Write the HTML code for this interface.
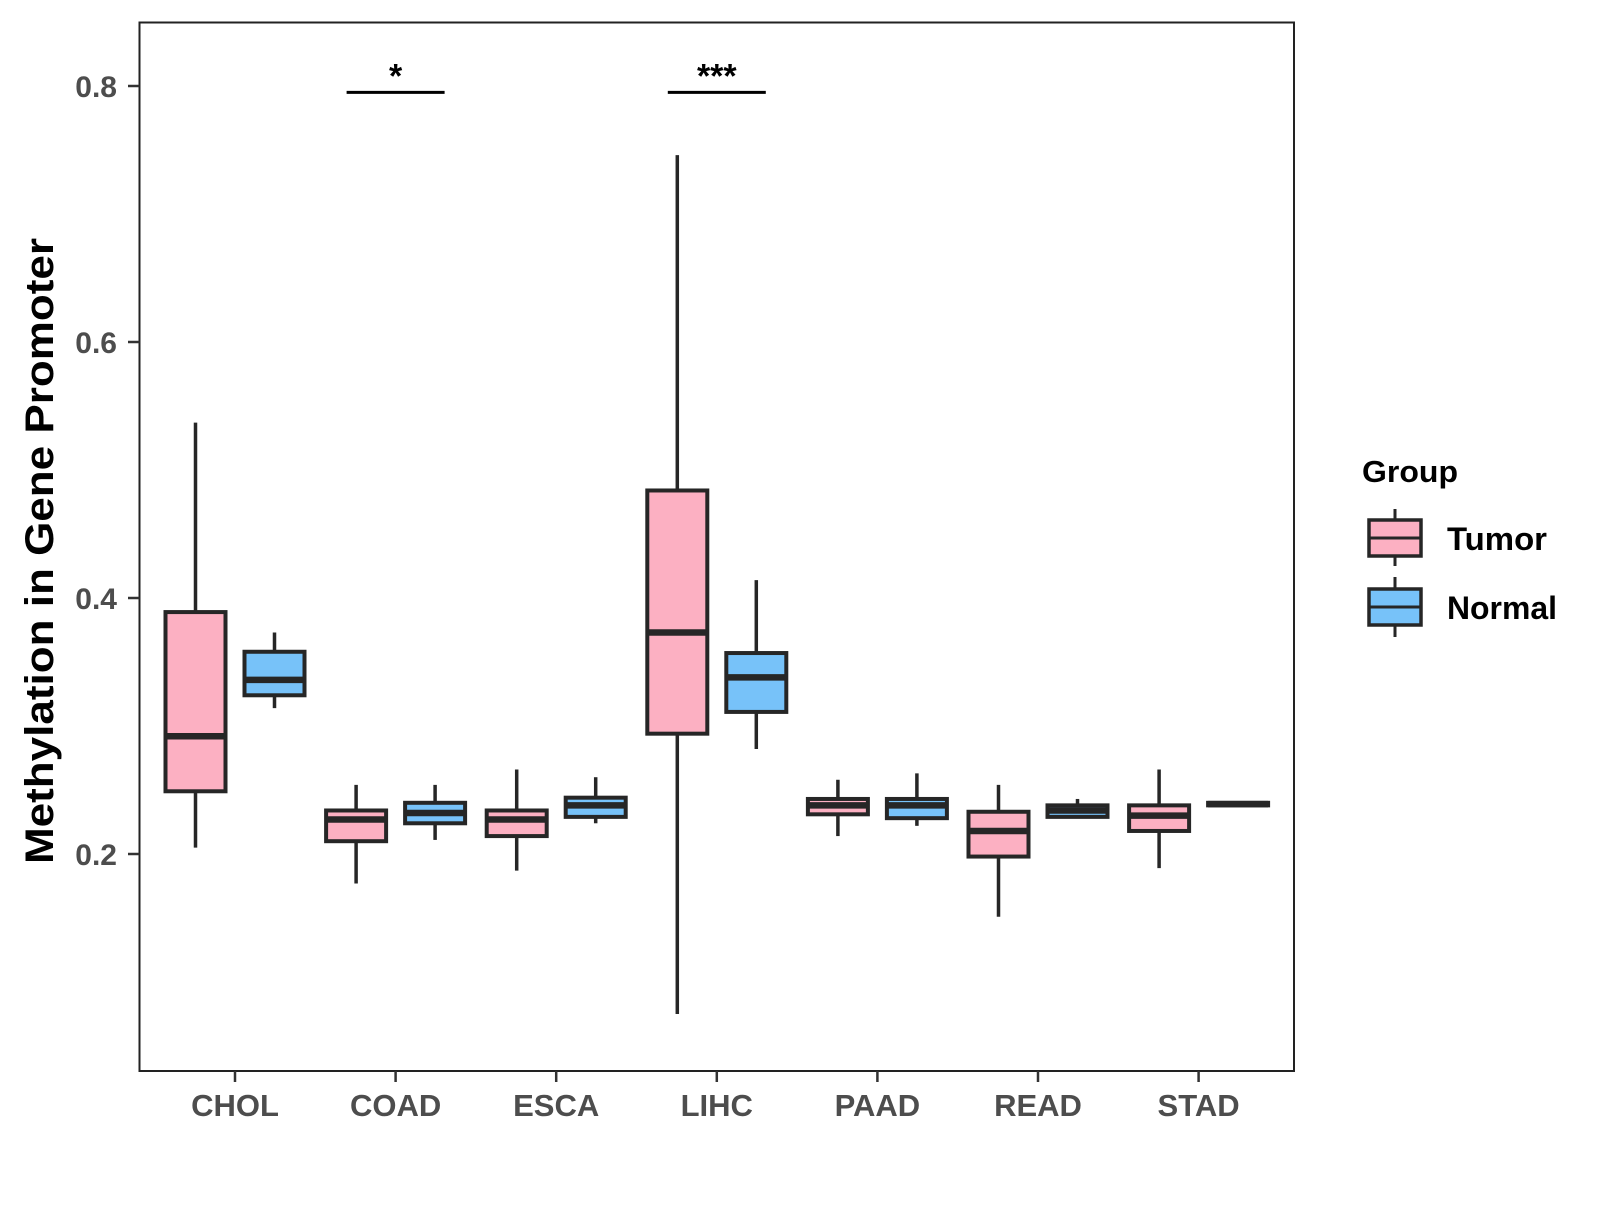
<!DOCTYPE html>
<html><head><meta charset="utf-8"><style>
body{margin:0;background:#fff}
svg text{font-family:"Liberation Sans",Arial,sans-serif;font-weight:bold}
</style></head><body>
<svg id="chart" width="1600" height="1200" xmlns="http://www.w3.org/2000/svg">
<rect x="0" y="0" width="1600" height="1200" fill="#fff"/>
<g id="marks"></g>
<rect x="139.5" y="22.5" width="1154.5" height="1048.5" fill="none" stroke="#222" stroke-width="2"/>
<g id="axes"></g>
<text x="53" y="551" transform="rotate(-90 53 551)" text-anchor="middle" font-size="40" textLength="626" lengthAdjust="spacingAndGlyphs" fill="#000">Methylation in Gene Promoter</text>
<g>
<text x="1362" y="482" font-size="31" textLength="96" lengthAdjust="spacingAndGlyphs" fill="#000">Group</text>
<g>
<line x1="1395" y1="509" x2="1395" y2="566" stroke="#262626" stroke-width="3"/>
<rect x="1369" y="520" width="52" height="36" fill="#FCB0C2" stroke="#262626" stroke-width="3.5"/>
<line x1="1369" y1="538" x2="1421" y2="538" stroke="#262626" stroke-width="3"/>
<text x="1447" y="550" font-size="32" textLength="100" lengthAdjust="spacingAndGlyphs" fill="#000">Tumor</text>
</g>
<g>
<line x1="1395" y1="577" x2="1395" y2="637" stroke="#262626" stroke-width="3"/>
<rect x="1369" y="589" width="52" height="36" fill="#77C2F9" stroke="#262626" stroke-width="3.5"/>
<line x1="1369" y1="607" x2="1421" y2="607" stroke="#262626" stroke-width="3"/>
<text x="1447" y="619" font-size="32" textLength="110" lengthAdjust="spacingAndGlyphs" fill="#000">Normal</text>
</g>
</g>
</svg>
<script>
const categories=["CHOL","COAD","ESCA","LIHC","PAAD","READ","STAD"];
const groups=["Tumor","Normal"];
// [low, q1, median, q3, high]
const tumorStats=[[0.205,0.249,0.292,0.389,0.537],[0.177,0.210,0.227,0.234,0.254],[0.187,0.214,0.227,0.234,0.266],[0.075,0.294,0.373,0.484,0.746],[0.214,0.231,0.238,0.243,0.258],[0.151,0.198,0.218,0.233,0.254],[0.189,0.218,0.230,0.238,0.266]];
const normalStats=[[0.314,0.324,0.336,0.358,0.373],[0.211,0.224,0.232,0.240,0.254],[0.224,0.229,0.238,0.244,0.260],[0.282,0.311,0.338,0.357,0.414],[0.222,0.228,0.238,0.243,0.263],[0.229,0.229,0.234,0.238,0.243],[0.238,0.238,0.239,0.240,0.240]];
const yTicks=[0.2,0.4,0.6,0.8];
const sigCategories=["COAD","LIHC"];
const sigLabels=["*","***"];
const sigLevel=0.795;
const NS="http://www.w3.org/2000/svg";
const y=v=>854-(v-0.2)*1280;
const x=i=>235+i*160.6;
const colors=["#FCB0C2","#77C2F9"];
const marks=document.getElementById("marks"),axes=document.getElementById("axes");
function mk(tag,attrs,parent){const e=document.createElementNS(NS,tag);for(const k in attrs)e.setAttribute(k,attrs[k]);parent.appendChild(e);return e;}
[tumorStats,normalStats].forEach((stats,g)=>{
  stats.forEach((s,i)=>{
    const cx=x(i)+(g===0?-39.5:39.5),w=60;
    const grp=mk("g",{},marks);
    
    
    mk("line",{x1:cx,x2:cx,y1:y(s[4]),y2:y(s[0]),stroke:"#262626","stroke-width":3.5},grp);
    mk("rect",{x:cx-w/2,y:y(s[3]),width:w,height:Math.max(0.5,y(s[1])-y(s[3])),fill:colors[g],stroke:"#262626","stroke-width":4},grp);
    mk("line",{x1:cx-w/2,x2:cx+w/2,y1:y(s[2]),y2:y(s[2]),stroke:"#262626","stroke-width":6.5},grp);
  });
});
sigCategories.forEach((c,k)=>{
  const i=categories.indexOf(c);
  const l=mk("line",{x1:x(i)-49,x2:x(i)+49,y1:y(sigLevel),y2:y(sigLevel),stroke:"#000","stroke-width":3},marks);
  
  
  const t=mk("text",{x:x(i),y:y(sigLevel)-5,"text-anchor":"middle","font-size":34,fill:"#000"},marks);
  t.textContent=sigLabels[k];
  
  
});
yTicks.forEach(v=>{
  mk("line",{x1:128,x2:139.5,y1:y(v),y2:y(v),stroke:"#333","stroke-width":2.5},axes);
  const t=mk("text",{x:117,y:y(v)+11,"text-anchor":"end","font-size":30,fill:"#4d4d4d"},axes);
  t.textContent=v.toFixed(1);
  
  
});
categories.forEach((c,i)=>{
  mk("line",{x1:x(i),x2:x(i),y1:1071,y2:1082,stroke:"#333","stroke-width":2.5},axes);
  const t=mk("text",{x:x(i),y:1116,"text-anchor":"middle","font-size":31,fill:"#4d4d4d"},axes);
  t.textContent=c;
  
  
});
</script>
</body></html>
